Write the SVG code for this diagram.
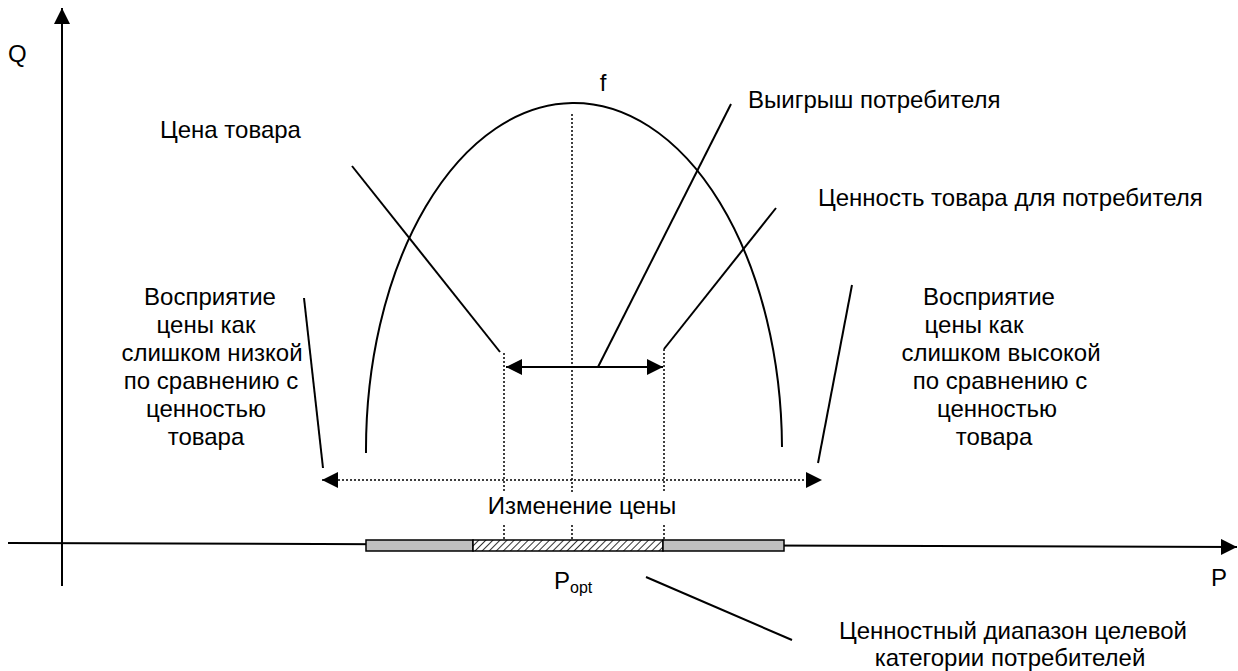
<svg xmlns="http://www.w3.org/2000/svg" width="1238" height="671" viewBox="0 0 1238 671">
<style>
.t{font-family:"Liberation Sans",Arial,sans-serif;font-size:24px;fill:#000}
.m{text-anchor:middle}
.ln{stroke:#000;stroke-width:2;fill:none}
.dot{stroke:#000;stroke-width:1.5;stroke-dasharray:2,2;fill:none}
</style>
<defs>
<marker id="ah" markerUnits="userSpaceOnUse" markerWidth="16" markerHeight="16" refX="16" refY="8" orient="auto-start-reverse"><path d="M0,0 L16,8 L0,16 z" fill="#000"/></marker>
<pattern id="hatch" patternUnits="userSpaceOnUse" width="5" height="5" patternTransform="rotate(45)"><rect width="5" height="5" fill="#fff"/><line x1="0" y1="0" x2="0" y2="5" stroke="#333" stroke-width="2"/></pattern>
</defs>
<g id="axes">
<line class="ln" x1="62" y1="586" x2="62" y2="8" marker-end="url(#ah)"/>
<line class="ln" x1="8" y1="543" x2="1237" y2="547" marker-end="url(#ah)"/>
<text class="t" x="8" y="62">Q</text>
<text class="t" x="1211" y="586">P</text>
</g>
<g id="bar">
<rect x="366" y="540" width="107" height="11" fill="#c0c0c0" stroke="#000" stroke-width="1.5"/>
<rect x="473" y="540" width="190" height="11" fill="url(#hatch)" stroke="#000" stroke-width="1.5"/>
<rect x="663" y="540" width="121" height="11" fill="#c0c0c0" stroke="#000" stroke-width="1.5"/>
</g>
<g id="curve">
<path class="ln" d="M366,453 A208,347 0 0 1 782,447"/>
<text class="t m" x="603" y="91">f</text>
</g>
<g id="connectors">
<path class="dot" d="M572,114 V493 M572,525 V540 M504,353 V493 M504,525 V540 M664,349 V493 M664,525 V540"/>
<line class="ln" x1="506" y1="367" x2="663" y2="367" marker-start="url(#ah)" marker-end="url(#ah)"/>
<line class="dot" x1="322" y1="480" x2="822" y2="480" marker-start="url(#ah)" marker-end="url(#ah)"/>
<line class="ln" x1="352" y1="166" x2="500" y2="352"/>
<line class="ln" x1="731" y1="104" x2="598" y2="367"/>
<line class="ln" x1="776" y1="208" x2="664" y2="349"/>
<line class="ln" x1="304" y1="298" x2="323" y2="468"/>
<line class="ln" x1="852" y1="285" x2="818" y2="463"/>
<line class="ln" x1="646" y1="577" x2="792" y2="640"/>
</g>
<g id="label-price">
<text class="t" x="160" y="138">Цена товара</text>
</g>
<g id="label-gain">
<text class="t" x="748" y="108">Выигрыш потребителя</text>
</g>
<g id="label-value">
<text class="t" x="818" y="206">Ценность товара для потребителя</text>
</g>
<g id="label-low">
<text class="t m" x="210" y="305">Восприятие</text>
<text class="t m" x="206" y="333">цены как</text>
<text class="t m" x="212" y="361">слишком низкой</text>
<text class="t m" x="211" y="389">по сравнению с</text>
<text class="t m" x="206" y="417">ценностью</text>
<text class="t m" x="206" y="445">товара</text>
</g>
<g id="label-high">
<text class="t m" x="989" y="305">Восприятие</text>
<text class="t m" x="974" y="333">цены как</text>
<text class="t m" x="1001" y="361">слишком высокой</text>
<text class="t m" x="1000" y="389">по сравнению с</text>
<text class="t m" x="997" y="417">ценностью</text>
<text class="t m" x="994" y="445">товара</text>
</g>
<g id="label-change">
<text class="t m" x="582" y="514">Изменение цены</text>
</g>
<g id="label-popt">
<text class="t" x="554" y="589">P<tspan font-size="16" dy="4">opt</tspan></text>
</g>
<g id="label-range">
<text class="t m" x="1013" y="639">Ценностный диапазон целевой</text>
<text class="t m" x="1010" y="666">категории  потребителей</text>
</g>
</svg>
